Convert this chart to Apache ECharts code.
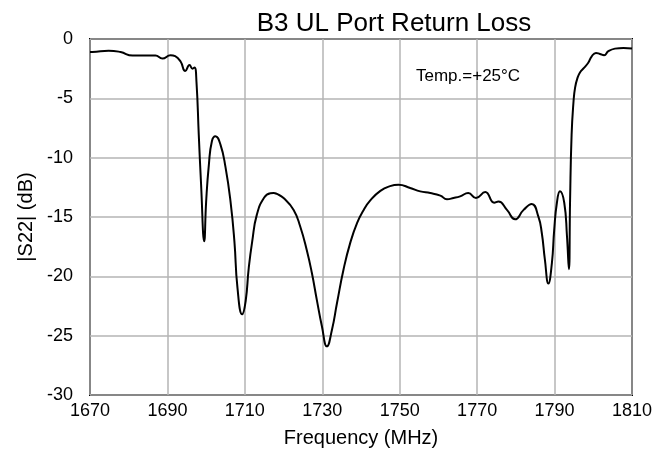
<!DOCTYPE html>
<html>
<head>
<meta charset="utf-8">
<script src="https://cdn.jsdelivr.net/npm/echarts@6/dist/echarts.min.js"></script>
<style>
  html, body { margin: 0; padding: 0; background: #fff; }
  #chart { width: 666px; height: 456px; }
</style>
</head>
<body>
<div id="chart"></div>
<script>
// 频率 (MHz)
const freq = [
  1670, 1670.6, 1674.8, 1677.9, 1681, 1684.3, 1686.9, 1688.7, 1690.8, 1692,
  1693.4, 1694.6, 1695.7, 1696.5, 1697, 1697.5, 1698.1, 1698.7, 1699.5, 1700,
  1700.7, 1701.5, 1702.4, 1703.7, 1705, 1706.3, 1707.3, 1708.1, 1709.3, 1710.2,
  1711, 1711.9, 1713.1, 1715, 1716.6, 1717.4, 1718.3, 1720, 1722.6, 1724.3,
  1726, 1727.3, 1728.6, 1729.9, 1731.2, 1732.5, 1733.8, 1735.5, 1737.2, 1739,
  1740.7, 1742.4, 1745, 1747.5, 1749.7, 1752.7, 1755.3, 1757.9, 1760.5, 1762.2,
  1763.9, 1765.6, 1767.7, 1769.7, 1772.1, 1774.4, 1775.5, 1777.7, 1779.8, 1782,
  1784.1, 1785.8, 1786.7, 1787.5, 1788.4, 1789.3, 1789.9, 1790.6, 1791.4, 1792.5,
  1793.2, 1793.7, 1794, 1794.4, 1794.9, 1795.3, 1795.9, 1796.6, 1797.6, 1798.7,
  1799.6, 1800.7, 1801.7, 1802.8, 1803.9, 1805.6, 1807.8, 1810
]
// |S22| (dB)
const s22 = [
  -1.1, -1.1, -0.98, -1.1, -1.4, -1.4, -1.4, -1.65, -1.37, -1.45,
  -1.9, -2.7, -2.2, -2.5, -2.4, -3.6, -8.1, -12.3, -17.05, -13.7,
  -10.6, -8.6, -8.2, -8.9, -10.8, -13.7, -17.05, -21, -23.2, -22.1,
  -19.3, -17.05, -14.8, -13.35, -13, -12.98, -13.06, -13.4, -14.4, -15.8,
  -17.8, -19.7, -22, -24.2, -25.9, -24.5, -22.25, -19.4, -17.2, -15.5,
  -14.4, -13.6, -12.8, -12.4, -12.28, -12.55, -12.84, -12.98, -13.2, -13.5,
  -13.4, -13.26, -12.98, -13.4, -12.9, -13.8, -13.7, -14.4, -15.2, -14.4,
  -13.9, -14.95, -16.35, -18.6, -20.6, -18.9, -16.1, -13.8, -12.84, -13.8,
  -16.6, -19.4, -13.7, -8.06, -5.25, -4.1, -3.3, -2.8, -2.44, -2.0,
  -1.46, -1.17, -1.26, -1.37, -1.03, -0.81, -0.75, -0.8
]

const fontFamily = 'Liberation Sans, Arial, Helvetica, sans-serif'

const chart = echarts.init(document.getElementById('chart'))

const option = {
  animation: false,
  backgroundColor: '#fff',
  title: [
    {
      text: 'B3 UL Port Return Loss',
      left: 389,
      textAlign: 'center',
      top: 6,
      textStyle: { fontFamily, fontSize: 26, fontWeight: 'normal', color: '#000' }
    },
    {
      text: 'Temp.=+25°C',
      left: 411,
      top: 63,
      textStyle: { fontFamily, fontSize: 17, fontWeight: 'normal', color: '#000' }
    }
  ],
  grid: {
    left: 90,
    right: 34,
    top: 39,
    bottom: 61,
    show: true,
    borderColor: '#000',
    borderWidth: 2
  },
  xAxis: {
    type: 'value',
    min: 1670,
    max: 1810,
    interval: 20,
    name: 'Frequency (MHz)',
    nameLocation: 'middle',
    nameGap: 33,
    nameTextStyle: { fontFamily, fontSize: 20, color: '#000' },
    axisLine: { show: false },
    axisTick: { show: false },
    axisLabel: { fontFamily, fontSize: 18, color: '#000', margin: 7, formatter: v => String(v) },
    splitLine: { show: true, lineStyle: { color: '#b4b4b4', width: 1.5 } }
  },
  yAxis: {
    type: 'value',
    min: -30,
    max: 0,
    interval: 5,
    name: '|S22| (dB)',
    nameLocation: 'middle',
    nameGap: 52,
    nameTextStyle: { fontFamily, fontSize: 20, color: '#000' },
    axisLine: { show: false },
    axisTick: { show: false },
    axisLabel: { fontFamily, fontSize: 18, color: '#000', margin: 17 },
    splitLine: { show: true, lineStyle: { color: '#b4b4b4', width: 1.5 } }
  },
  series: [
    {
      type: 'line',
      data: freq.map((f, i) => [f, s22[i]]),
      showSymbol: false,
      smooth: 0.5,
      lineStyle: { color: '#000', width: 2 }
    }
  ]
}

chart.setOption(option)
</script>
</body>
</html>
